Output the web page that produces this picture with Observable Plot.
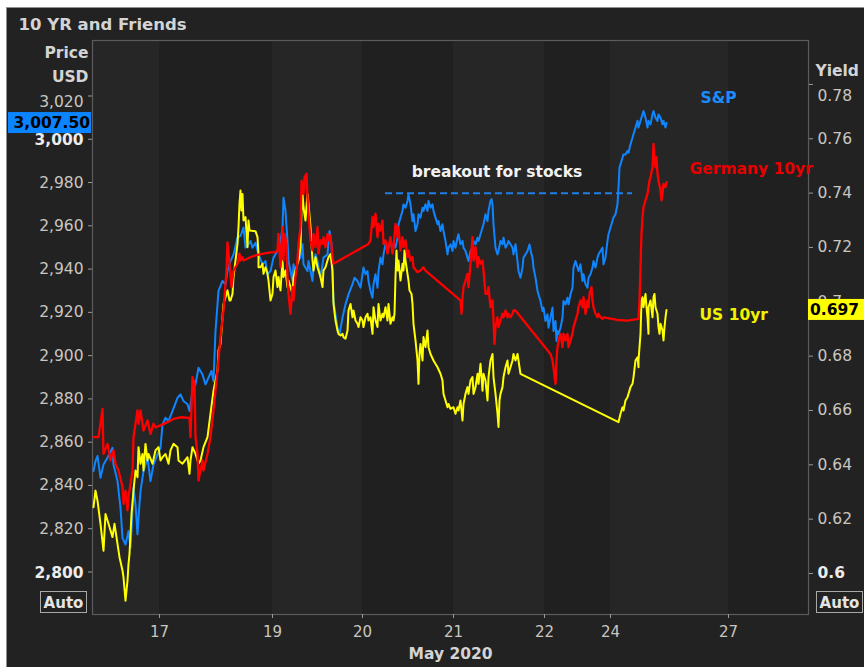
<!DOCTYPE html>
<html>
<head>
<meta charset="utf-8">
<script src="https://cdn.jsdelivr.net/npm/d3@7"></script>
<script src="https://cdn.jsdelivr.net/npm/@observablehq/plot@0.6"></script>
<style>
  html, body { margin: 0; padding: 0; background: #ffffff; }
  #chart { position: absolute; left: 0; top: 0; }
  svg { font-family: "DejaVu Sans", Verdana, sans-serif; }
</style>
</head>
<body>
<div id="chart"></div>
<script>
// ---------------- DATA ----------------
// x = intraday bar index on Bloomberg's compressed session axis
const dayBars   = [67, 180, 270, 361, 452, 518, 636];
const dayLabels = ["17", "19", "20", "21", "22", "24", "27"];
const barDomain = [0, 716];

const priceTicks = [2800, 2820, 2840, 2860, 2880, 2900, 2920, 2940, 2960, 2980, 3000, 3020];
const boldPriceTicks = [2800, 3000];
const yieldTicks = [0.6, 0.62, 0.64, 0.66, 0.68, 0.7, 0.72, 0.74, 0.76, 0.78];
const boldYieldTicks = [0.6];

const spxLast = 3007.50;
const us10Last = 0.697;
const breakout = { level: 2975, fromBar: 293, toBar: 540, label: "breakout for stocks" };

// S&P 500 futures, USD (left axis)
const spx = [[1,2846.6],[3,2851.3],[5,2853.6],[8,2843.6],[11,2849.7],[15,2852.8],[20,2857.4],[21,2849.7],[25,2842.0],[28,2829.7],[30,2815.8],[33,2812.7],[36,2818.9],[38,2811.2],[40,2828.1],[41,2838.9],[43,2831.2],[45,2817.4],[46,2825.1],[48,2837.4],[51,2846.6],[55,2852.8],[58,2842.0],[61,2849.7],[65,2854.3],[68,2857.4],[70,2868.2],[73,2871.3],[76,2869.8],[80,2874.4],[85,2880.5],[88,2882.1],[91,2879.0],[95,2877.5],[97,2874.4],[100,2883.6],[103,2886.7],[106,2894.4],[110,2891.3],[113,2886.7],[116,2889.8],[119,2892.9],[121,2888.2],[123,2911.4],[125,2923.7],[126,2929.9],[130,2934.5],[133,2932.9],[135,2939.1],[138,2943.7],[141,2946.8],[145,2954.5],[148,2955.3],[151,2959.2],[153,2949.9],[156,2951.5],[158,2953.0],[160,2949.9],[163,2952.2],[166,2946.8],[170,2942.2],[173,2943.7],[175,2937.6],[178,2939.1],[181,2945.3],[185,2948.4],[188,2953.0],[190,2959.2],[191,2973.0],[193,2966.9],[195,2953.0],[196,2943.7],[198,2939.1],[200,2934.5],[201,2942.2],[203,2937.6],[205,2943.7],[208,2945.3],[210,2951.5],[211,2942.2],[215,2939.1],[216,2943.7],[220,2934.5],[221,2940.7],[223,2946.8],[225,2943.7],[228,2936.0],[231,2945.3],[235,2946.8],[237,2957.6],[239,2951.5],[240,2936.0],[241,2925.3],[243,2919.1],[245,2913.0],[247,2909.9],[250,2917.6],[253,2923.7],[256,2928.3],[260,2933.0],[262,2936.0],[265,2934.5],[268,2931.4],[271,2940.7],[273,2937.6],[275,2939.1],[276,2934.5],[278,2929.9],[280,2926.8],[281,2933.0],[283,2937.6],[285,2931.4],[286,2939.1],[288,2945.3],[290,2942.2],[291,2946.8],[293,2951.5],[295,2948.4],[296,2949.9],[298,2953.0],[300,2948.4],[301,2951.5],[303,2949.9],[305,2954.5],[306,2960.7],[308,2963.8],[310,2966.9],[311,2969.9],[313,2968.4],[315,2971.5],[316,2974.6],[318,2969.9],[320,2962.2],[321,2965.3],[323,2957.6],[325,2960.7],[326,2965.3],[328,2963.8],[330,2968.4],[331,2966.9],[333,2969.9],[335,2966.9],[336,2971.5],[338,2968.4],[340,2969.9],[341,2966.9],[343,2963.8],[345,2960.7],[346,2962.2],[348,2957.6],[350,2960.7],[351,2957.6],[353,2953.0],[355,2946.8],[356,2949.9],[358,2951.5],[360,2948.4],[361,2953.0],[363,2949.9],[365,2954.5],[366,2956.1],[368,2951.5],[370,2953.0],[371,2949.9],[373,2948.4],[375,2945.3],[376,2943.7],[378,2948.4],[380,2949.9],[381,2953.0],[383,2951.5],[385,2954.5],[386,2953.0],[388,2956.1],[390,2959.2],[391,2960.7],[393,2965.3],[395,2962.2],[396,2966.9],[398,2971.5],[399,2972.3],[400,2969.9],[401,2960.7],[403,2949.9],[405,2946.8],[406,2948.4],[408,2953.0],[410,2951.5],[411,2954.5],[413,2949.9],[415,2951.5],[416,2953.0],[418,2951.5],[420,2949.9],[421,2946.8],[423,2951.5],[425,2943.7],[426,2939.1],[428,2936.0],[430,2940.7],[431,2945.3],[433,2946.8],[435,2948.4],[436,2949.9],[437,2951.4],[439,2946.8],[440,2945.3],[441,2940.7],[443,2936.0],[445,2929.9],[446,2928.3],[448,2925.3],[450,2920.6],[451,2922.2],[453,2916.0],[455,2919.1],[456,2912.9],[458,2917.6],[460,2922.2],[461,2911.4],[463,2916.0],[464,2906.8],[465,2911.4],[466,2909.9],[468,2912.9],[470,2917.6],[471,2925.3],[473,2923.7],[475,2926.8],[476,2923.7],[478,2928.3],[480,2931.4],[481,2940.7],[483,2943.7],[485,2940.7],[486,2939.1],[488,2942.2],[490,2934.5],[491,2937.6],[493,2933.0],[495,2931.4],[496,2936.0],[498,2937.6],[500,2940.7],[501,2943.7],[503,2940.7],[505,2945.3],[506,2946.8],[508,2948.4],[510,2949.9],[511,2942.2],[513,2945.3],[515,2953.0],[516,2956.1],[518,2959.2],[520,2962.2],[521,2963.8],[523,2965.3],[525,2970.1],[526,2977.6],[527,2986.9],[528,2988.4],[530,2991.5],[531,2993.0],[533,2993.0],[535,2994.6],[536,2993.8],[538,2997.7],[540,3000.7],[541,3002.3],[543,3005.4],[545,3008.5],[546,3005.4],[548,3008.5],[550,3011.5],[551,3013.1],[553,3010.0],[555,3005.4],[556,3008.5],[558,3006.9],[560,3011.5],[561,3013.1],[563,3010.0],[565,3008.5],[566,3011.5],[568,3010.0],[570,3006.9],[571,3008.5],[573,3005.4],[574,3007.5]];

// Germany 10yr (drawn against the yield scale)
const bund = [[1,0.6502],[6,0.6502],[10,0.6606],[11,0.6440],[15,0.6477],[18,0.6416],[21,0.6453],[23,0.6404],[26,0.6379],[30,0.6318],[31,0.6256],[33,0.6305],[35,0.6232],[36,0.6281],[38,0.6330],[40,0.6379],[41,0.6502],[45,0.6600],[46,0.6551],[48,0.6600],[51,0.6526],[55,0.6563],[58,0.6514],[61,0.6551],[63,0.6538],[68,0.6545],[75,0.6557],[81,0.6569],[88,0.6575],[97,0.6573],[98,0.6502],[100,0.6723],[102,0.6698],[103,0.6502],[105,0.6440],[106,0.6342],[110,0.6416],[111,0.6379],[115,0.6440],[118,0.6502],[121,0.6600],[125,0.6747],[128,0.6870],[131,0.6968],[134,0.7115],[135,0.7219],[137,0.7140],[139,0.7054],[141,0.7115],[145,0.7140],[147,0.7177],[148,0.7152],[150,0.7164],[151,0.7152],[158,0.7164],[165,0.7173],[171,0.7177],[178,0.7182],[183,0.7183],[185,0.7189],[186,0.7250],[188,0.7127],[190,0.7275],[191,0.7152],[192,0.7250],[194,0.7213],[195,0.7091],[196,0.7029],[198,0.6956],[200,0.7054],[201,0.7005],[203,0.7091],[205,0.7152],[206,0.7213],[208,0.7275],[209,0.7446],[211,0.7397],[212,0.7459],[214,0.7471],[215,0.7385],[217,0.7275],[218,0.7226],[220,0.7189],[221,0.7250],[223,0.7201],[225,0.7275],[226,0.7177],[228,0.7226],[230,0.7213],[231,0.7238],[233,0.7201],[235,0.7250],[236,0.7226],[238,0.7244],[240,0.7164],[241,0.7140],[276,0.7213],[278,0.7226],[280,0.7312],[281,0.7275],[283,0.7324],[285,0.7238],[286,0.7287],[288,0.7262],[290,0.7299],[291,0.7213],[293,0.7226],[295,0.7177],[296,0.7201],[298,0.7238],[300,0.7177],[301,0.7201],[303,0.7287],[305,0.7238],[306,0.7275],[308,0.7189],[310,0.7238],[311,0.7201],[313,0.7226],[315,0.7164],[316,0.7189],[318,0.7152],[320,0.7164],[321,0.7127],[325,0.7109],[328,0.7115],[331,0.7127],[333,0.7115],[368,0.7005],[369,0.6956],[370,0.7017],[371,0.7054],[373,0.7078],[375,0.7103],[376,0.7054],[378,0.7140],[380,0.7238],[381,0.7152],[383,0.7201],[385,0.7127],[386,0.7164],[388,0.7140],[390,0.7152],[391,0.7115],[393,0.7029],[395,0.7029],[396,0.7054],[398,0.6980],[400,0.7005],[401,0.6931],[402,0.6845],[403,0.6907],[405,0.6943],[406,0.6907],[408,0.6931],[410,0.6956],[411,0.6943],[413,0.6968],[415,0.6943],[416,0.6956],[418,0.6943],[420,0.6956],[421,0.6968],[423,0.6968],[458,0.6808],[460,0.6784],[461,0.6759],[463,0.6698],[464,0.6784],[465,0.6833],[466,0.6857],[468,0.6882],[470,0.6833],[471,0.6882],[473,0.6857],[475,0.6882],[476,0.6833],[478,0.6857],[480,0.6882],[481,0.6907],[483,0.6931],[485,0.6956],[486,0.6980],[488,0.7005],[490,0.6980],[491,0.7017],[493,0.6956],[495,0.7005],[496,0.6980],[497,0.7029],[499,0.7054],[500,0.7005],[501,0.6980],[503,0.6956],[505,0.6943],[506,0.6956],[508,0.6943],[510,0.6937],[511,0.6943],[525,0.6933],[535,0.6931],[546,0.6937],[547,0.7005],[548,0.7127],[549,0.7250],[550,0.7312],[551,0.7348],[553,0.7373],[555,0.7397],[556,0.7422],[557,0.7446],[558,0.7459],[560,0.7495],[561,0.7581],[562,0.7520],[563,0.7495],[564,0.7532],[565,0.7471],[566,0.7446],[568,0.7410],[569,0.7373],[570,0.7397],[571,0.7434],[573,0.7422],[574,0.7440]];

// US 10yr yield, % (right axis)
const us10 = [[1,0.6244],[3,0.6305],[5,0.6268],[8,0.6183],[11,0.6084],[13,0.6219],[16,0.6183],[20,0.6134],[22,0.6183],[25,0.6109],[27,0.6060],[30,0.6011],[31,0.5986],[33,0.5900],[35,0.5974],[36,0.6035],[37,0.6072],[39,0.6219],[41,0.6305],[43,0.6379],[45,0.6354],[46,0.6465],[48,0.6404],[50,0.6440],[51,0.6379],[53,0.6477],[55,0.6416],[56,0.6440],[60,0.6404],[63,0.6453],[66,0.6465],[68,0.6416],[70,0.6428],[73,0.6440],[76,0.6404],[78,0.6453],[81,0.6477],[85,0.6465],[86,0.6416],[90,0.6404],[95,0.6428],[97,0.6367],[98,0.6416],[100,0.6465],[103,0.6440],[106,0.6404],[108,0.6416],[111,0.6465],[115,0.6502],[118,0.6588],[121,0.6673],[125,0.6747],[126,0.6821],[128,0.6845],[131,0.6992],[135,0.7042],[137,0.7005],[138,0.7005],[140,0.7029],[141,0.7091],[143,0.7152],[145,0.7213],[146,0.7275],[147,0.7361],[148,0.7410],[149,0.7336],[150,0.7397],[151,0.7299],[153,0.7312],[155,0.7201],[156,0.7299],[157,0.7262],[163,0.7260],[165,0.7238],[166,0.7176],[166,0.7127],[168,0.7127],[170,0.7140],[171,0.7103],[173,0.7127],[175,0.7103],[176,0.7078],[178,0.7005],[180,0.7029],[181,0.7091],[183,0.7115],[185,0.7054],[186,0.7091],[188,0.7042],[190,0.7152],[191,0.7091],[193,0.7115],[195,0.7054],[196,0.7078],[198,0.7054],[200,0.7029],[201,0.7091],[203,0.7115],[205,0.7140],[206,0.7152],[208,0.7201],[209,0.7336],[210,0.7397],[211,0.7348],[213,0.7299],[215,0.7397],[216,0.7361],[218,0.7275],[220,0.7152],[221,0.7115],[223,0.7164],[225,0.7127],[226,0.7115],[228,0.7091],[230,0.7054],[231,0.7115],[233,0.7127],[235,0.7152],[236,0.7164],[238,0.7176],[240,0.7115],[241,0.6992],[243,0.6931],[245,0.6894],[246,0.6882],[248,0.6876],[250,0.6882],[251,0.6870],[253,0.6864],[255,0.6894],[256,0.6968],[258,0.6992],[260,0.6943],[261,0.6968],[263,0.6931],[265,0.6919],[266,0.6907],[268,0.6943],[270,0.6931],[271,0.6907],[273,0.6943],[275,0.6956],[276,0.6931],[278,0.6943],[280,0.6882],[281,0.6980],[283,0.6931],[285,0.6907],[286,0.6992],[288,0.6931],[290,0.6956],[291,0.6943],[293,0.6980],[295,0.6931],[296,0.6992],[298,0.6919],[300,0.6943],[301,0.6931],[302,0.6956],[303,0.7091],[304,0.7189],[305,0.7115],[306,0.7152],[308,0.7078],[310,0.7140],[311,0.7115],[312,0.7189],[313,0.7152],[315,0.7103],[316,0.7078],[317,0.7042],[319,0.7029],[320,0.6992],[321,0.6919],[323,0.6858],[325,0.6784],[326,0.6698],[327,0.6808],[328,0.6845],[330,0.6784],[331,0.6870],[333,0.6833],[335,0.6894],[336,0.6833],[338,0.6808],[341,0.6784],[345,0.6759],[348,0.6735],[350,0.6710],[351,0.6661],[353,0.6637],[355,0.6612],[356,0.6624],[358,0.6606],[361,0.6612],[363,0.6588],[365,0.6612],[366,0.6600],[368,0.6637],[370,0.6563],[371,0.6624],[373,0.6661],[375,0.6686],[376,0.6661],[378,0.6710],[380,0.6723],[381,0.6661],[383,0.6686],[385,0.6735],[386,0.6698],[388,0.6772],[390,0.6673],[391,0.6735],[393,0.6710],[395,0.6637],[396,0.6723],[398,0.6784],[400,0.6808],[401,0.6723],[403,0.6661],[405,0.6588],[406,0.6539],[407,0.6637],[408,0.6661],[410,0.6686],[411,0.6723],[413,0.6759],[415,0.6784],[416,0.6735],[418,0.6759],[420,0.6784],[421,0.6808],[423,0.6784],[425,0.6808],[426,0.6784],[428,0.6735],[526,0.6557],[528,0.6588],[530,0.6612],[531,0.6600],[533,0.6637],[535,0.6649],[536,0.6661],[538,0.6686],[540,0.6698],[541,0.6722],[543,0.6784],[545,0.6796],[546,0.6759],[546,0.6784],[548,0.6882],[549,0.7005],[550,0.7017],[551,0.6980],[552,0.7005],[553,0.7029],[554,0.6980],[555,0.6943],[556,0.6882],[556,0.6980],[558,0.7005],[560,0.6943],[561,0.7017],[562,0.7029],[563,0.6980],[565,0.6956],[566,0.6907],[567,0.6882],[568,0.6919],[569,0.6907],[570,0.6894],[571,0.6858],[572,0.6907],[573,0.6943],[574,0.6970]];

// ---------------- STYLE ----------------
const C = {
  panel: "#222222", bandA: "#262626", bandB: "#202020", frame: "#5c5c5c",
  tick: "#c9c6c0", tickBold: "#ececec", head: "#d4d4d4",
  spx: "#0f86ff", bund: "#ff0000", us10: "#ffff00",
  spxText: "#1a8cff", bundText: "#e60000", us10Text: "#f2f200", dash: "#1f7fe6"
};
const FS = 15.5;

// yield axis expressed on the price scale (dual axis)
const yieldToPrice = d3.scaleLinear().domain([0.6, 0.78]).range([2799.31, 3025.35]);
const priceFmt = d3.format(",");
const yieldFmt = d => String(+d.toFixed(2));

// background session bands
const bounds = [barDomain[0], ...dayBars, barDomain[1]];
const bands = d3.pairs(bounds).map(([a, b], i) => ({ x1: a, x2: b, light: i % 2 === 0 }));

const lbl = (arr) => arr.filter(d => !boldPriceTicks.includes(d) && d !== priceTicks[priceTicks.length - 1]);
const ylbl = (arr) => arr.filter(d => !boldYieldTicks.includes(d) && d !== yieldTicks[yieldTicks.length - 1]);

const chart = Plot.plot({
  width: 864, height: 667,
  marginLeft: 92, marginRight: 56, marginTop: 40, marginBottom: 53,
  style: { background: "transparent", fontFamily: "DejaVu Sans, Verdana, sans-serif", overflow: "visible" },
  x: { domain: barDomain },
  y: { domain: [2780.36, 3045.65] },
  marks: [
    Plot.rect(bands.filter(d => d.light), { x1: "x1", x2: "x2", fill: C.bandA }),
    Plot.rect(bands.filter(d => !d.light), { x1: "x1", x2: "x2", fill: C.bandB }),
    Plot.frame({ stroke: C.frame, strokeWidth: 1.2 }),

    // axes (tick marks)
    Plot.axisY({ anchor: "left", ticks: priceTicks, tickSize: 4, tickFormat: () => "", label: null, stroke: "#9a9a9a" }),
    Plot.axisY({ anchor: "right", ticks: yieldTicks.map(yieldToPrice), tickSize: 4, tickFormat: () => "", label: null, stroke: "#9a9a9a" }),
    Plot.axisX({ ticks: dayBars, tickSize: 4, tickFormat: () => "", label: null, stroke: "#9a9a9a" }),

    // left tick labels
    Plot.text(lbl(priceTicks), { y: d => d, text: d => priceFmt(d), frameAnchor: "left", textAnchor: "end", dx: -9, fill: C.tick, fontSize: FS }),
    Plot.text([priceTicks[priceTicks.length - 1]], { y: d => d, text: d => priceFmt(d), frameAnchor: "left", textAnchor: "end", dx: -9, dy: 6, fill: C.tick, fontSize: FS }),
    Plot.text(boldPriceTicks, { y: d => d, text: d => priceFmt(d), frameAnchor: "left", textAnchor: "end", dx: -9, dy: 1, fill: C.tickBold, fontSize: FS, fontWeight: "bold" }),
    // right tick labels
    Plot.text(ylbl(yieldTicks), { y: d => yieldToPrice(d), text: yieldFmt, frameAnchor: "right", textAnchor: "start", dx: 9, fill: C.tick, fontSize: FS }),
    Plot.text([yieldTicks[yieldTicks.length - 1]], { y: d => yieldToPrice(d), text: yieldFmt, frameAnchor: "right", textAnchor: "start", dx: 9, dy: 12, fill: C.tick, fontSize: FS }),
    Plot.text(boldYieldTicks, { y: d => yieldToPrice(d), text: yieldFmt, frameAnchor: "right", textAnchor: "start", dx: 9, fill: C.tickBold, fontSize: FS, fontWeight: "bold" }),
    // x tick labels
    Plot.text(dayBars, { x: d => d, text: (d, i) => dayLabels[i], frameAnchor: "bottom", lineAnchor: "middle", dy: 18, fill: C.tick, fontSize: 15 }),
    Plot.text(["May 2020"], { frameAnchor: "bottom", lineAnchor: "middle", dy: 40, fill: C.head, fontSize: FS, fontWeight: "bold" }),

    // headings
    Plot.text(["10 YR and Friends"], { frameAnchor: "top-left", lineAnchor: "middle", textAnchor: "start", dx: -74, dy: -15.5, fill: C.head, fontSize: 16.5, fontWeight: "bold" }),
    Plot.text(["Price"], { frameAnchor: "top-left", lineAnchor: "middle", textAnchor: "end", dx: -4, dy: 12.5, fill: C.head, fontSize: FS, fontWeight: "bold" }),
    Plot.text(["USD"], { frameAnchor: "top-left", lineAnchor: "middle", textAnchor: "end", dx: -4, dy: 37, fill: C.head, fontSize: FS, fontWeight: "bold" }),
    Plot.text(["Yield"], { frameAnchor: "top-right", lineAnchor: "middle", textAnchor: "start", dx: 7, dy: 31, fill: C.head, fontSize: FS, fontWeight: "bold" }),

    // breakout annotation
    Plot.ruleY([breakout.level], { x1: breakout.fromBar, x2: breakout.toBar, stroke: C.dash, strokeWidth: 2, strokeDasharray: "7,4" }),
    Plot.text([breakout.label], { x: (breakout.fromBar + breakout.toBar) / 2 - 12, y: breakout.level + 10, fill: "#f2f2f2", fontSize: FS, fontWeight: "bold" }),

    // series
    Plot.line(spx, { x: d => d[0], y: d => d[1], stroke: C.spx, strokeWidth: 2 }),
    Plot.line(us10, { x: d => d[0], y: d => yieldToPrice(d[1]), stroke: C.us10, strokeWidth: 2 }),
    Plot.line(bund, { x: d => d[0], y: d => yieldToPrice(d[1]), stroke: C.bund, strokeWidth: 2.3 }),

    // series labels
    Plot.text(["S&P"], { x: spx[spx.length - 1][0] + 34, y: 3019, textAnchor: "start", fill: C.spxText, fontSize: FS, fontWeight: "bold" }),
    Plot.text(["Germany 10yr"], { x: bund[bund.length - 1][0] + 23, y: yieldToPrice(0.749), textAnchor: "start", fill: C.bundText, fontSize: FS, fontWeight: "bold" }),
    Plot.text(["US 10yr"], { x: us10[us10.length - 1][0] + 33, y: yieldToPrice(0.6953), textAnchor: "start", fill: C.us10Text, fontSize: FS, fontWeight: "bold" })
  ]
});

document.getElementById("chart").append(chart);

// ---------------- chrome: panel, last-value badges, Auto buttons ----------------
const svg = d3.select(chart);
const ys = chart.scale("y");
svg.insert("rect", ":first-child")
  .attr("x", 6.5).attr("y", 7.5).attr("width", 870).attr("height", 670)
  .attr("fill", C.panel).attr("stroke", "#8f8f8f");

function badge(yPx, x, w, bg, text, anchor) {
  const g = svg.append("g");
  g.append("rect").attr("x", x).attr("y", yPx - 10.5).attr("width", w).attr("height", 21).attr("fill", bg);
  g.append("text").attr("x", anchor === "end" ? x + w - 1 : x + 2).attr("y", yPx).attr("dy", "0.36em")
    .attr("text-anchor", anchor).attr("font-size", FS).attr("font-weight", "bold").attr("fill", "#000").text(text);
}
badge(ys.apply(spxLast), 8, 83, "#0a84ff", d3.format(",.2f")(spxLast), "end");
badge(ys.apply(yieldToPrice(us10Last)), 808, 56, "#ffff00", String(us10Last), "start");

function autoBox(x) {
  const g = svg.append("g");
  g.append("rect").attr("x", x + 0.5).attr("y", 591.5).attr("width", 46).attr("height", 21)
    .attr("fill", "none").attr("stroke", "#a8a8a8");
  g.append("text").attr("x", x + 23.5).attr("y", 602.5).attr("dy", "0.36em").attr("text-anchor", "middle")
    .attr("font-size", 15).attr("font-weight", "bold").attr("fill", "#e4e4e4").text("Auto");
}
autoBox(40);
autoBox(816);
</script>
</body>
</html>
